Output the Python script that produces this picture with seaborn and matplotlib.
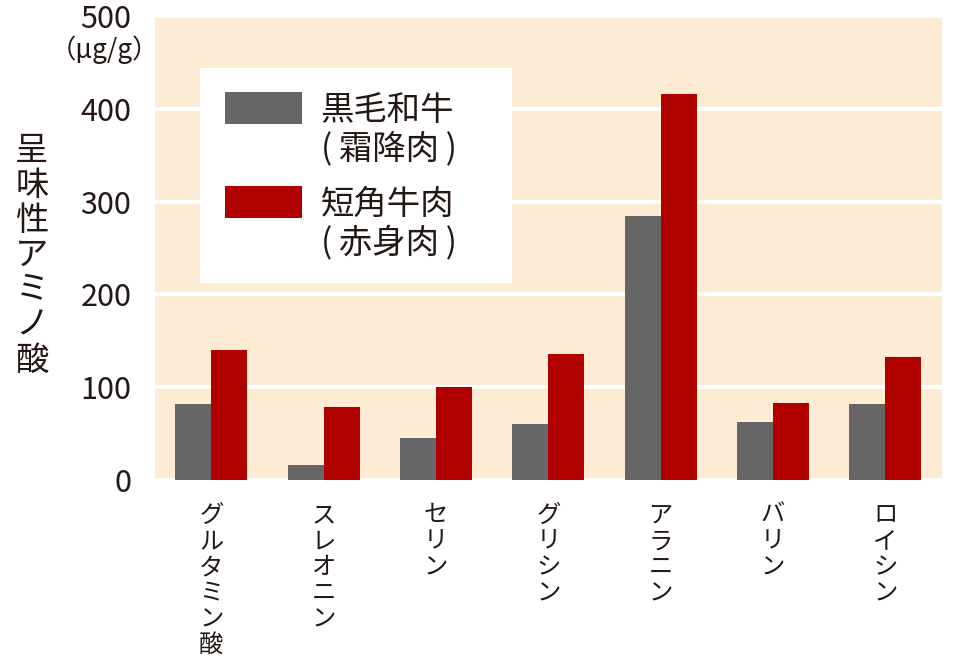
import matplotlib
matplotlib.use("Agg")
import matplotlib.pyplot as plt
import seaborn as sns
import pandas as pd
from matplotlib.patches import Rectangle
from matplotlib.legend_handler import HandlerPatch

categories = ["グルタミン酸", "スレオニン", "セリン", "グリシン", "アラニン", "バリン", "ロイシン"]
series_names = ["黒毛和牛\n(\u2009霜降肉\u2009)", "短角牛肉\n(\u2009赤身肉\u2009)"]
wagyu = [82, 16, 45, 60, 284, 62, 82]
tankaku = [140, 79, 100, 136, 416, 83, 133]
yticks = [0, 100, 200, 300, 400, 500]
ylabel = "呈味性アミノ酸"
unit = "（μg/g）"

df = pd.DataFrame({
    "cat": categories * 2,
    "series": [series_names[0]] * len(categories) + [series_names[1]] * len(categories),
    "value": wagyu + tankaku,
})

sns.set_theme(style="white")
plt.rcParams["font.family"] = ["Noto Sans CJK JP", "DejaVu Sans"]
textc = "#231815"

fig = plt.figure(figsize=(9.6, 6.67), dpi=100)
ax = fig.add_axes([0.1615, 0.2804, 0.8193, 0.6956])
ax.set_facecolor("#FDEBD4")

sns.barplot(data=df, x="cat", y="value", hue="series", order=categories,
            hue_order=series_names, palette=["#666666", "#B00000"],
            width=0.64, gap=0, saturation=1, ax=ax, edgecolor="none")

ax.set_ylim(0, 500)
ax.set_yticks(yticks)
ax.set_yticklabels([str(t) for t in yticks], fontsize=22, color=textc)
ax.yaxis.grid(True, color="white", linewidth=3)
ax.set_axisbelow(True)
for s in ax.spines.values():
    s.set_visible(False)
ax.tick_params(axis="both", length=0)
ax.tick_params(axis="y", pad=17)

ax.set_xticks(range(len(categories)))
ax.set_xticklabels(["\n".join(c) for c in categories], fontsize=17.5, color=textc,
                   va="top", linespacing=1.0)
ax.tick_params(axis="x", pad=16)
ax.set_xlabel("")
ax.set_ylabel("")

fig.text(32 / 960, 1 - 255 / 667, "\n".join(ylabel), fontsize=24, color=textc,
         ha="center", va="center", linespacing=1.0)
fig.text(104 / 960, 1 - 50 / 667, unit, fontsize=19, color=textc,
         ha="center", va="center")

# white legend panel (wider on the right, as in the original)
ax.add_patch(Rectangle((0.0572, 0.4246), 0.3964, 0.4634, transform=ax.transAxes,
                       facecolor="white", edgecolor="none", zorder=0.8))


def top_patch(legend, orig_handle, xdescent, ydescent, width, height, fontsize):
    return Rectangle(xy=(-xdescent, -ydescent + 0.72 * fontsize), width=width, height=height)


handles, labels = ax.get_legend_handles_labels()
leg = ax.legend(handles, labels, loc="upper left", bbox_to_anchor=(0.057, 0.888),
                borderaxespad=0, fontsize=24, frameon=False,
                handlelength=2.3, handleheight=1.08, handletextpad=0.57,
                labelspacing=0.6, borderpad=0.75, title=None,
                handler_map={Rectangle: HandlerPatch(patch_func=top_patch)})
for t in leg.get_texts():
    t.set_color(textc)
    t.set_linespacing(1.15)
    t.set_multialignment("left")

fig.savefig("out.png", dpi=100, facecolor="white")
